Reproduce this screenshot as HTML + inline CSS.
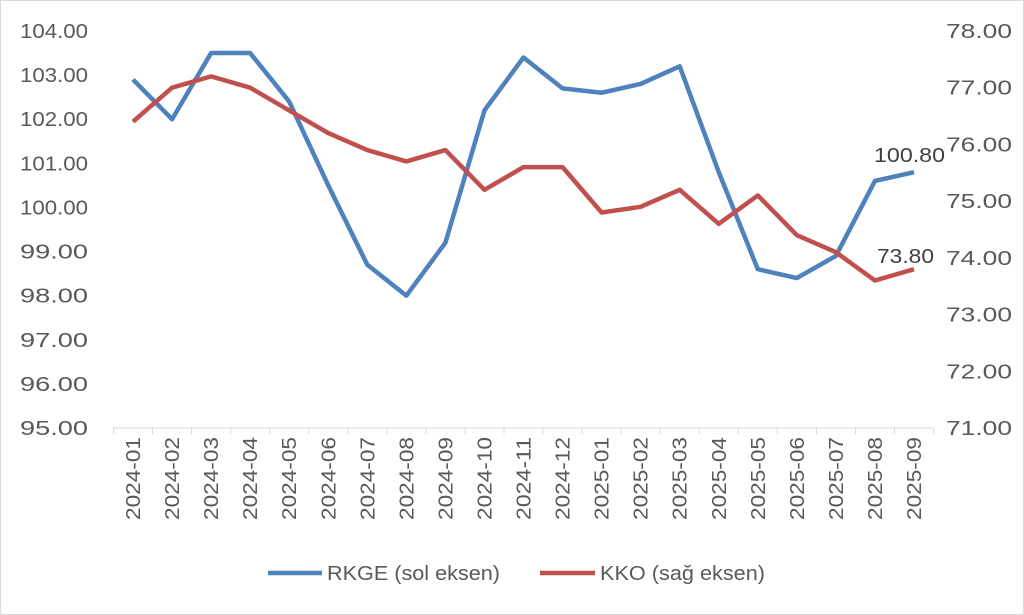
<!DOCTYPE html>
<html><head><meta charset="utf-8"><style>
body{margin:0;background:#fff}
svg{display:block;font-family:"Liberation Sans",sans-serif}
</style></head><body>
<svg id="s" width="1024" height="615" xmlns="http://www.w3.org/2000/svg">
<rect x="0.5" y="0.5" width="1023" height="614" fill="#fff" stroke="#d9d9d9"/>
<g id="g"></g>
<line x1="268" y1="573" x2="322" y2="573" stroke="#4f81bd" stroke-width="4.5"/>
<text x="327" y="580" font-size="20" fill="#595959" textLength="173" lengthAdjust="spacingAndGlyphs">RKGE (sol eksen)</text>
<line x1="540" y1="573" x2="595" y2="573" stroke="#c0504d" stroke-width="4.5"/>
<text x="600" y="580" font-size="20" fill="#595959" textLength="165" lengthAdjust="spacingAndGlyphs">KKO (sağ eksen)</text>
</svg>
<script>
var g=document.getElementById('g'),h='';
var L=['2024-01','2024-02','2024-03','2024-04','2024-05','2024-06','2024-07','2024-08','2024-09','2024-10','2024-11','2024-12','2025-01','2025-02','2025-03','2025-04','2025-05','2025-06','2025-07','2025-08','2025-09'];
var B=[102.9,102.0,103.5,103.5,102.4,100.5,98.7,98.0,99.2,102.2,103.4,102.7,102.6,102.8,103.2,100.8,98.6,98.4,98.9,100.6,100.8];
var R=[76.4,77.0,77.2,77.0,76.6,76.2,75.9,75.7,75.9,75.2,75.6,75.6,74.8,74.9,75.2,74.6,75.1,74.4,74.1,73.6,73.8];
function X(i){return 133+i*39.05}
function YB(v){return 31+(104-v)*44.11}
function YR(v){return 31+(78-v)*56.71}
var TL=' lengthAdjust="spacingAndGlyphs"';
for(var v=95;v<=104;v++)h+='<text x="88" y="'+(YB(v)+7)+'" font-size="20" fill="#595959" text-anchor="end" textLength="68"'+TL+'>'+v.toFixed(2)+'</text>';
for(var v=71;v<=78;v++)h+='<text x="946" y="'+(YR(v)+7)+'" font-size="20" fill="#595959" textLength="66"'+TL+'>'+v.toFixed(2)+'</text>';
h+='<line x1="113" y1="428" x2="933" y2="428" stroke="#d9d9d9" stroke-width="1"/>';
for(var i=0;i<=21;i++){var x=113.5+i*39.05;h+='<line x1="'+x+'" y1="428" x2="'+x+'" y2="434" stroke="#d9d9d9"/>';}
for(var i=0;i<21;i++)h+='<text transform="translate('+(X(i)+7)+',437) rotate(-90)" font-size="20" fill="#595959" text-anchor="end" textLength="83"'+TL+'>'+L[i]+'</text>';
var pb=B.map(function(v,i){return X(i)+','+YB(v)}).join(' ');
var pr=R.map(function(v,i){return X(i)+','+YR(v)}).join(' ');
h+='<polyline points="'+pb+'" fill="none" stroke="#4f81bd" stroke-width="4.5" stroke-linejoin="round"/>';
h+='<polyline points="'+pr+'" fill="none" stroke="#c0504d" stroke-width="4.5" stroke-linejoin="round"/>';
h+='<text x="874" y="162" font-size="20" fill="#404040" textLength="71"'+TL+'>100.80</text>';
h+='<text x="877" y="263" font-size="20" fill="#404040" textLength="57"'+TL+'>73.80</text>';
g.innerHTML=h;
</script>
</body></html>
